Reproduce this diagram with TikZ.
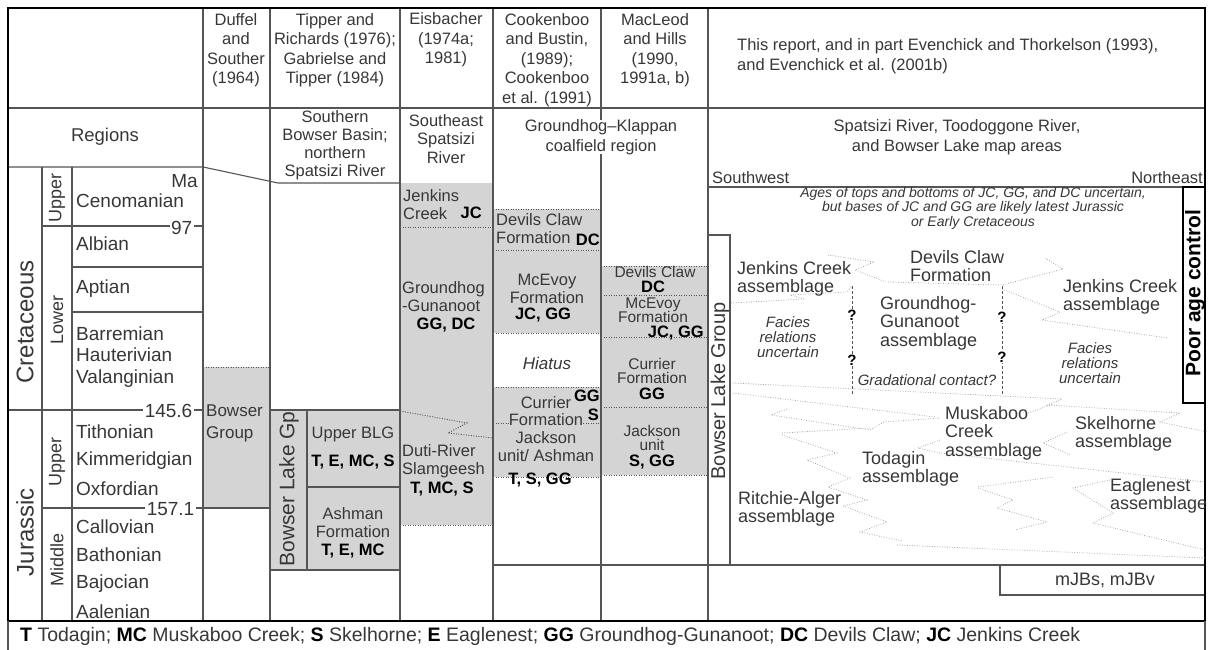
\documentclass[tikz,border=0pt]{standalone}
\usepackage{fontspec}
\setmainfont{Liberation Sans}
\usepackage{tikz}
\usetikzlibrary{positioning}
\usepackage{color}
\definecolor{ink}{RGB}{55,55,55}
\definecolor{rule}{RGB}{85,85,85}
\definecolor{unitgrey}{RGB}{212,212,212}
\definecolor{contactgrey}{RGB}{168,168,168}
\newcommand{\ucode}[1]{\textcolor{black}{\bfseries #1}}

\tikzset{
  txt/.style={text=ink, inner sep=0pt, align=center, font=\fontsize{16.5}{19.5}\selectfont},
  stage/.style={txt, anchor=west, align=left, font=\fontsize{19}{21.5}\selectfont},
  period/.style={txt, rotate=90, font=\fontsize{24}{26}\selectfont},
  epoch/.style={txt, rotate=90, font=\fontsize{18}{20}\selectfont},
  age/.style={txt, anchor=east, fill=white, inner xsep=1.5pt, font=\fontsize{19}{21}\selectfont},
  unittext/.style={txt, font=\fontsize{16.5}{18}\selectfont},
  tightunit/.style={txt, font=\fontsize{15.5}{14.5}\selectfont},
  codetext/.style={txt, text=black, font=\fontsize{16.5}{18}\selectfont\bfseries},
  assemblage/.style={txt, anchor=west, align=left, font=\fontsize{18}{18.5}\selectfont},
  remark/.style={txt, font=\fontsize{15}{15}\selectfont\itshape},
  query/.style={txt, text=black, fill=white, inner sep=1pt, font=\fontsize{15}{15}\selectfont\bfseries},
  tableline/.style={draw=rule, line width=1.1pt},
  unitline/.style={draw=rule, line width=0.9pt, dash pattern=on 1pt off 1.5pt},
  contact/.style={draw=contactgrey, line width=0.8pt, dash pattern=on 0.8pt off 1.7pt},
  querycontact/.style={draw=rule, line width=0.9pt, dash pattern=on 3pt off 2pt},
}

\begin{document}
\begin{tikzpicture}[x=1pt, y=-1pt]
  \useasboundingbox (0,0) rectangle (1208,650);
  % Grey units
  \fill[unitgrey] (203,367) rectangle (270,508);
  \fill[unitgrey] (270,410) rectangle (400,570);
  \fill[unitgrey] (400,183) rectangle (493,525);
  \fill[unitgrey] (493,209) rectangle (601,333);
  \fill[unitgrey] (493,387) rectangle (601,477);
  \fill[unitgrey] (601,266) rectangle (708,475);
  % Dotted unit boundaries
  \draw[unitline] (203,367) -- (270,367);
  \draw[unitline] (400,227) -- (493,227);
  \draw[unitline] (400,525) -- (493,525);
  \draw[unitline] (400,411) -- (467,423) -- (448,433) -- (493,438);
  \foreach \y in {209,250,333,387,423,477} \draw[unitline] (493,\y) -- (601,\y);
  \foreach \y in {266,295,337,407,475} \draw[unitline] (601,\y) -- (708,\y);
  % Table rules
  \draw[tableline] (8,108) -- (1205,108);
  \draw[tableline] (8,167) -- (203,167) -- (278,183) -- (400,183);
  \draw[tableline] (708,187) -- (1205,187);
  \foreach \x in {203,270,400,493,601,708} \draw[tableline] (\x,8) -- (\x,621);
  \draw[tableline] (42,167) -- (42,621);
  \draw[tableline] (72,167) -- (72,621);
  \draw[tableline] (42,226) -- (203,226);
  \draw[tableline] (72,267) -- (203,267);
  \draw[tableline] (72,312) -- (203,312);
  \draw[tableline] (8,410) -- (203,410);
  \draw[tableline] (42,508) -- (270,508);
  \draw[tableline] (270,410) rectangle (400,570);
  \draw[tableline] (307,410) -- (307,570);
  \draw[tableline] (307,487) -- (400,487);
  \draw[tableline] (493,565) -- (1205,565);
  \draw[tableline] (1000,565) -- (1000,595) -- (1205,595);
  \draw[tableline] (708,235) -- (730,235) -- (730,565);
  \draw[line width=2.2pt] (1183,187) rectangle (1205,403);
  % Frame and legend strip
  \draw[line width=2.6pt] (8,8) rectangle (1205,621);
  \draw[tableline] (8,621) -- (8,650);
  \draw[tableline] (1205,621) -- (1205,650);

  % Column headings
  \node[txt] (duffel) at (236,50) {Duffel\\and\\Souther\\(1964)};
  \node[txt] (tipper) at (335,50) {Tipper and\\Richards (1976);\\Gabrielse and\\Tipper (1984)};
  \node[txt] (eisbacher) at (446,40) {Eisbacher\\(1974a;\\1981)};
  \node[txt] (cookenboo) at (547,60) {Cookenboo\\and Bustin,\\(1989);\\Cookenboo\\et al. (1991)};
  \node[txt] (macleod) at (655,50) {MacLeod\\and Hills\\(1990,\\1991a, b)};
  \node[txt, anchor=west, align=left] (thisreport) at (737,56) {This report, and in part Evenchick and Thorkelson (1993),\\and Evenchick et al. (2001b)};
  % Regions
  \node[txt, font=\fontsize{18.5}{20}\selectfont] (regions) at (105,137) {Regions};
  \node[txt, font=\fontsize{16.5}{18}\selectfont] (southbowser) at (335,145) {Southern\\Bowser Basin;\\northern\\Spatsizi River};
  \node[txt, font=\fontsize{16.5}{18.5}\selectfont] (sespatsizi) at (446,139) {Southeast\\Spatsizi\\River};
  \node[txt, fill=white] (coalfield) at (601,137) {Groundhog--Klappan\\coalfield region};
  \node[txt] (mapareas) at (957,137) {Spatsizi River, Toodoggone River,\\and Bowser Lake map areas};
  \node[txt, anchor=west] (southwest) at (712,178) {Southwest};
  \node[txt, anchor=east] (northeast) at (1203,178) {Northeast};

  % Time scale
  \node[period] (cretaceous) at (25,322) {Cretaceous};
  \node[period] (jurassic) at (25,532) {Jurassic};
  \node[epoch] (upperk) at (57,198) {Upper};
  \node[epoch] (lowerk) at (57,320) {Lower};
  \node[epoch] (upperj) at (57,462) {Upper};
  \node[epoch] (middlej) at (57,560) {Middle};
  \node[stage, anchor=east] (ma) at (198,181) {Ma};
  \node[stage] (cenomanian) at (76,201) {Cenomanian};
  \node[age] (age97) at (194,228) {97};
  \node[stage] (albian) at (76,244) {Albian};
  \node[stage] (aptian) at (76,289) {Aptian};
  \node[stage] (barremian) at (76,357) {Barremian\\Hauterivian\\Valanginian};
  \node[age] (age145) at (194,411) {145.6};
  \node[stage] (tithonian) at (76,432) {Tithonian};
  \node[stage] (kimmeridgian) at (76,461) {Kimmeridgian};
  \node[stage] (oxfordian) at (76,489) {Oxfordian};
  \node[age] (age157) at (196,509) {157.1};
  \node[stage] (callovian) at (76,527) {Callovian};
  \node[stage] (bathonian) at (76,555) {Bathonian};
  \node[stage] (bajocian) at (76,584) {Bajocian};
  \node[stage] (aalenian) at (76,612) {Aalenian};

  % Duffel and Souther
  \node[unittext, anchor=west, align=left, font=\fontsize{17}{22}\selectfont] (bowsergroup) at (206,423) {Bowser\\Group};
  % Tipper and Richards
  \node[txt, rotate=90, font=\fontsize{21}{21}\selectfont] (bowserlakegp) at (289,489) {Bowser Lake Gp};
  \node[unittext] (upperblg) at (353,434) {Upper BLG};
  \node[codetext] (upperblgcode) at (353,462) {T, E, MC, S};
  \node[unittext] (ashman) at (353,523) {Ashman\\Formation};
  \node[codetext] (ashmancode) at (353,551) {T, E, MC};
  % Eisbacher
  \node[unittext, anchor=west, align=left] (jenkinse) at (403,205) {Jenkins\\Creek};
  \node[codetext, anchor=east] (jce) at (482,213) {JC};
  \node[unittext, anchor=west, align=left] (groundhoge) at (402,297) {Groundhog\\-Gunanoot};
  \node[codetext] (ggdce) at (446,325) {GG, DC};
  \node[unittext, anchor=west, align=left] (dutie) at (402,461) {Duti-River\\Slamgeesh};
  \node[codetext] (dutiecode) at (442,489) {T, MC, S};
  % Cookenboo and Bustin
  \node[unittext, anchor=west, align=left] (devilsc) at (496,229) {Devils Claw\\Formation};
  \node[codetext, anchor=east] (dcc) at (600,240) {DC};
  \node[unittext] (mcevoyc) at (547,289) {McEvoy\\Formation};
  \node[codetext] (mcevoyccode) at (543,315) {JC, GG};
  \node[unittext, font=\fontsize{17}{18}\selectfont\itshape] (hiatus) at (547,363) {Hiatus};
  \node[unittext] (currierc) at (546,403) {Currier};
  \node[codetext, anchor=east] (ggc) at (600,396) {GG};
  \node[unittext, fill=unitgrey] (formationc) at (546,420) {Formation};
  \node[codetext, fill=unitgrey, anchor=east] (sc) at (599,415) {S};
  \node[unittext] (jacksonc) at (546,447) {Jackson\\unit/ Ashman};
  \node[codetext] (jacksonccode) at (540,480) {T, S, GG};
  % MacLeod and Hills
  \node[tightunit] (devilsm) at (655,272) {Devils Claw};
  \node[codetext] (dcm) at (653,287) {DC};
  \node[tightunit] (mcevoym) at (653,310) {McEvoy\\Formation};
  \node[codetext, anchor=east] (mcevoymcode) at (704,333) {JC, GG};
  \node[tightunit] (currierm) at (652,371) {Currier\\Formation};
  \node[codetext] (curriermcode) at (652,394) {GG};
  \node[tightunit] (jacksonm) at (652,438) {Jackson\\unit};
  \node[codetext] (jacksonmcode) at (652,462) {S, GG};

  % This report
  \node[txt, rotate=90, font=\fontsize{20}{20}\selectfont] (bowserlakegroup) at (720,391) {Bowser Lake Group};
  \node[remark, font=\fontsize{14}{14.5}\selectfont\itshape] (agesnote) at (973,208) {Ages of tops and bottoms of JC, GG, and DC uncertain,\\but bases of JC and GG are likely latest Jurassic\\or Early Cretaceous};
  \node[txt, rotate=90, text=black, font=\fontsize{21}{21}\selectfont\bfseries] (pooragecontrol) at (1195,293) {Poor age control};
  % contacts
  \draw[contact] (828,255) -- (874,262) -- (855,270) -- (886,282) -- (1002,285) -- (1063,269) -- (1045,258);
  \draw[contact] (731,303) -- (805,299) -- (790,295) -- (847,292) -- (852,286);
  \draw[contact] (1002,289) -- (1060,312) -- (1042,320) -- (1168,338);
  \draw[contact] (733,383) -- (1062,399) -- (1047,405) -- (1180,413) -- (1160,422) -- (1207,432);
  \draw[contact] (733,393) -- (935,417);
  \draw[contact] (787,409) -- (771,415) -- (870,430) -- (884,422) -- (940,418);
  \draw[contact] (782,433) -- (870,428);
  \draw[contact] (782,435) -- (837,453) -- (807,460) -- (850,478) -- (828,487) -- (867,500) -- (843,506) -- (887,522) -- (860,532) -- (902,541);
  \draw[contact] (897,545) -- (1205,558);
  \draw[contact] (940,440) -- (918,448) -- (940,453) -- (1205,482);
  \draw[contact] (1028,413) -- (1053,404);
  \draw[contact] (1067,432) -- (1043,443) -- (1070,455);
  \draw[contact] (978,487) -- (1053,477);
  \draw[contact] (978,488) -- (1013,500) -- (997,508) -- (1047,522) -- (1015,530);
  \draw[contact] (1110,480) -- (1073,488) -- (1113,513) -- (1093,523) -- (1205,550);
  \draw[querycontact] (852,286) -- (852,395);
  \draw[querycontact] (1002,286) -- (1002,395);
  % assemblages
  \node[assemblage] (jcleft) at (737,279) {Jenkins Creek\\assemblage};
  \node[assemblage] (devilsclaw) at (910,266) {Devils Claw\\Formation};
  \node[assemblage] (groundhoga) at (880,323) {Groundhog-\\Gunanoot\\assemblage};
  \node[remark] (faciesleft) at (788,337) {Facies\\relations\\uncertain};
  \node[query] (q1) at (852,315) {?};
  \node[query] (q2) at (852,360) {?};
  \node[query] (q3) at (1002,317) {?};
  \node[query] (q4) at (1002,357) {?};
  \node[remark] (gradational) at (927,380) {Gradational contact?};
  \node[assemblage] (jcright) at (1063,297) {Jenkins Creek\\assemblage};
  \node[remark] (faciesright) at (1090,363) {Facies\\relations\\uncertain};
  \node[assemblage] (muskaboo) at (945,433) {Muskaboo\\Creek\\assemblage};
  \node[assemblage] (skelhorne) at (1075,434) {Skelhorne\\assemblage};
  \node[assemblage] (todagin) at (862,469) {Todagin\\assemblage};
  \node[assemblage] (eaglenest) at (1110,496) {Eaglenest\\assemblage};
  \node[assemblage] (ritchie) at (738,509) {Ritchie-Alger\\assemblage};
  \node[txt, font=\fontsize{18}{18}\selectfont] (mjbs) at (1105,580) {mJBs, mJBv};

  % Legend
  \node[txt, anchor=west, font=\fontsize{19.5}{19.5}\selectfont] (legend) at (20,636) {\ucode{T} Todagin; \ucode{MC} Muskaboo Creek; \ucode{S} Skelhorne; \ucode{E} Eaglenest; \ucode{GG} Groundhog-Gunanoot; \ucode{DC} Devils Claw; \ucode{JC} Jenkins Creek};
\end{tikzpicture}
\end{document}
